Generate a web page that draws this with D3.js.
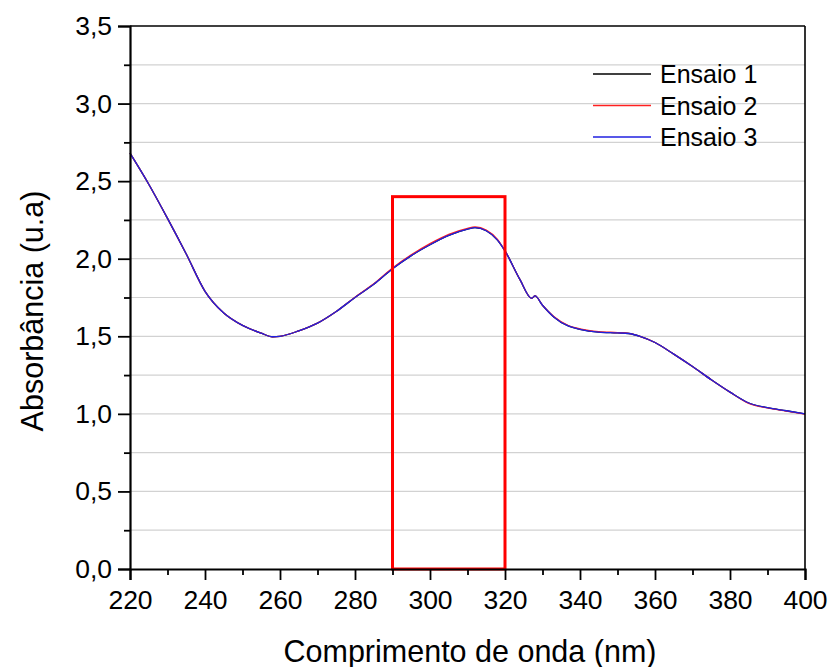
<!DOCTYPE html>
<html>
<head>
<meta charset="utf-8">
<script src="https://cdn.jsdelivr.net/npm/d3@7"></script>
<style>
  body { margin: 0; background: #fff; }
  text { font-family: "Liberation Sans", Arial, sans-serif; fill: #000; }
</style>
</head>
<body>
<svg id="chart" width="832" height="667"></svg>
<script>
// wavelengths (nm)
var wavelength = [220, 225, 230, 235, 240, 245, 250, 255, 258, 260, 265, 270, 275, 280, 285, 290,
                  295, 300, 305, 310, 312, 315, 318, 320, 324, 327.1, 328, 330, 333, 337, 340, 345, 350,
                  353, 356, 360, 365, 370, 375, 380, 385, 390, 395, 400];
var ensaio1 = [2.68, 2.48, 2.26, 2.03, 1.79, 1.65, 1.57, 1.52, 1.497, 1.50, 1.535, 1.585, 1.66, 1.75, 1.835, 1.935,
               2.02, 2.09, 2.15, 2.19, 2.20, 2.18, 2.12, 2.05, 1.865, 1.745, 1.76, 1.70, 1.625, 1.565, 1.545, 1.527, 1.522,
               1.518, 1.50, 1.46, 1.385, 1.305, 1.22, 1.14, 1.07, 1.04, 1.02, 1.00];
var ensaio2 = [2.68, 2.48, 2.26, 2.03, 1.79, 1.65, 1.57, 1.52, 1.497, 1.50, 1.535, 1.585, 1.66, 1.752, 1.838, 1.94,
               2.025, 2.097, 2.157, 2.196, 2.205, 2.185, 2.125, 2.05, 1.865, 1.745, 1.76, 1.70, 1.627, 1.568, 1.548, 1.53, 1.524,
               1.519, 1.50, 1.46, 1.385, 1.305, 1.22, 1.14, 1.068, 1.038, 1.018, 0.998];
var ensaio3 = [2.68, 2.48, 2.26, 2.03, 1.79, 1.65, 1.57, 1.52, 1.497, 1.50, 1.535, 1.585, 1.66, 1.75, 1.835, 1.935,
               2.02, 2.09, 2.15, 2.19, 2.20, 2.18, 2.12, 2.05, 1.865, 1.745, 1.76, 1.70, 1.625, 1.565, 1.545, 1.527, 1.522,
               1.518, 1.50, 1.46, 1.385, 1.305, 1.22, 1.14, 1.07, 1.04, 1.02, 1.00];
var seriesNames = ["Ensaio 1", "Ensaio 2", "Ensaio 3"];
var seriesColors = ["#000000", "#ff2020", "#2020e0"];
var xTicks = [220, 240, 260, 280, 300, 320, 340, 360, 380, 400];
var yTicks = [0, 0.5, 1.0, 1.5, 2.0, 2.5, 3.0, 3.5];
// highlighted region: x from 290 to 320, y up to 2.4
var boxX = [290, 320];
var boxY = [0, 2.4];

var svg = d3.select("#chart");
var margin = {left: 130, top: 26, right: 27, bottom: 98};
var W = 832 - margin.left - margin.right,
    H = 667 - margin.top - margin.bottom;

var x = d3.scaleLinear().domain([220, 400]).range([0, W]);
var y = d3.scaleLinear().domain([0, 3.5]).range([H, 0]);

var g = svg.append("g").attr("transform", "translate(" + margin.left + "," + margin.top + ")");

// grid lines every 0.25
g.selectAll(".grid").data(d3.range(0.25, 3.5, 0.25)).enter().append("line")
  .attr("x1", 0).attr("x2", W)
  .attr("y1", function(d) { return y(d); }).attr("y2", function(d) { return y(d); })
  .attr("stroke", "#d2d2d2").attr("stroke-width", 1.2);

// series
var line = d3.line()
  .x(function(d) { return x(d[0]); })
  .y(function(d) { return y(d[1]); })
  .curve(d3.curveMonotoneX);

[ensaio1, ensaio2, ensaio3].forEach(function(s, i) {
  g.append("path")
    .datum(wavelength.map(function(w, j) { return [w, s[j]]; }))
    .attr("fill", "none")
    .attr("stroke", seriesColors[i])
    .attr("stroke-width", 1.3)
    .attr("d", line);
});

// red box
g.append("rect")
  .attr("x", x(boxX[0])).attr("y", y(boxY[1]))
  .attr("width", x(boxX[1]) - x(boxX[0]))
  .attr("height", y(boxY[0]) - y(boxY[1]))
  .attr("fill", "none").attr("stroke", "#ff0000").attr("stroke-width", 3);

// frame top / right
g.append("line").attr("x1", 0).attr("x2", W).attr("y1", 0).attr("y2", 0)
  .attr("stroke", "#000").attr("stroke-width", 1.6);
g.append("line").attr("x1", W).attr("x2", W).attr("y1", 0).attr("y2", H)
  .attr("stroke", "#000").attr("stroke-width", 1.6);

// x axis
var xAxis = g.append("g").attr("transform", "translate(0," + H + ")")
  .call(d3.axisBottom(x).tickValues(xTicks).tickSize(11).tickPadding(10).tickFormat(d3.format("d")));
g.append("g").attr("transform", "translate(0," + H + ")")
  .call(d3.axisBottom(x).tickValues(d3.range(230, 400, 20)).tickSize(6).tickFormat(""))
  .select(".domain").remove();

// y axis
var fmt = function(d) { return d3.format(".1f")(d).replace(".", ","); };
var yAxis = g.append("g")
  .call(d3.axisLeft(y).tickValues(yTicks).tickSize(12).tickPadding(6).tickFormat(fmt));
g.append("g")
  .call(d3.axisLeft(y).tickValues(d3.range(0.25, 3.5, 0.5)).tickSize(6).tickFormat(""))
  .select(".domain").remove();

g.selectAll(".domain").attr("stroke-width", 2.2);
g.selectAll(".tick line").attr("stroke-width", 1.8);
xAxis.selectAll("text").attr("font-size", 26.5).attr("font-family", "Liberation Sans, Arial, sans-serif");
yAxis.selectAll("text").attr("font-size", 26.5).attr("font-family", "Liberation Sans, Arial, sans-serif");

// axis titles
svg.append("text").attr("x", 470).attr("y", 662)
  .attr("text-anchor", "middle").attr("font-size", 30.5).text("Comprimento de onda (nm)");
svg.append("text").attr("transform", "translate(43,311) rotate(-90)")
  .attr("text-anchor", "middle").attr("font-size", 30.5).text("Absorbância (u.a)");

// legend
var leg = svg.append("g");
seriesNames.forEach(function(n, i) {
  var ly = 74 + i * 31.5;
  leg.append("line").attr("x1", 593).attr("x2", 651).attr("y1", ly).attr("y2", ly)
    .attr("stroke", seriesColors[i]).attr("stroke-width", 1.3);
  leg.append("text").attr("x", 660).attr("y", ly + 9).attr("font-size", 25).text(n);
});
</script>
</body>
</html>
